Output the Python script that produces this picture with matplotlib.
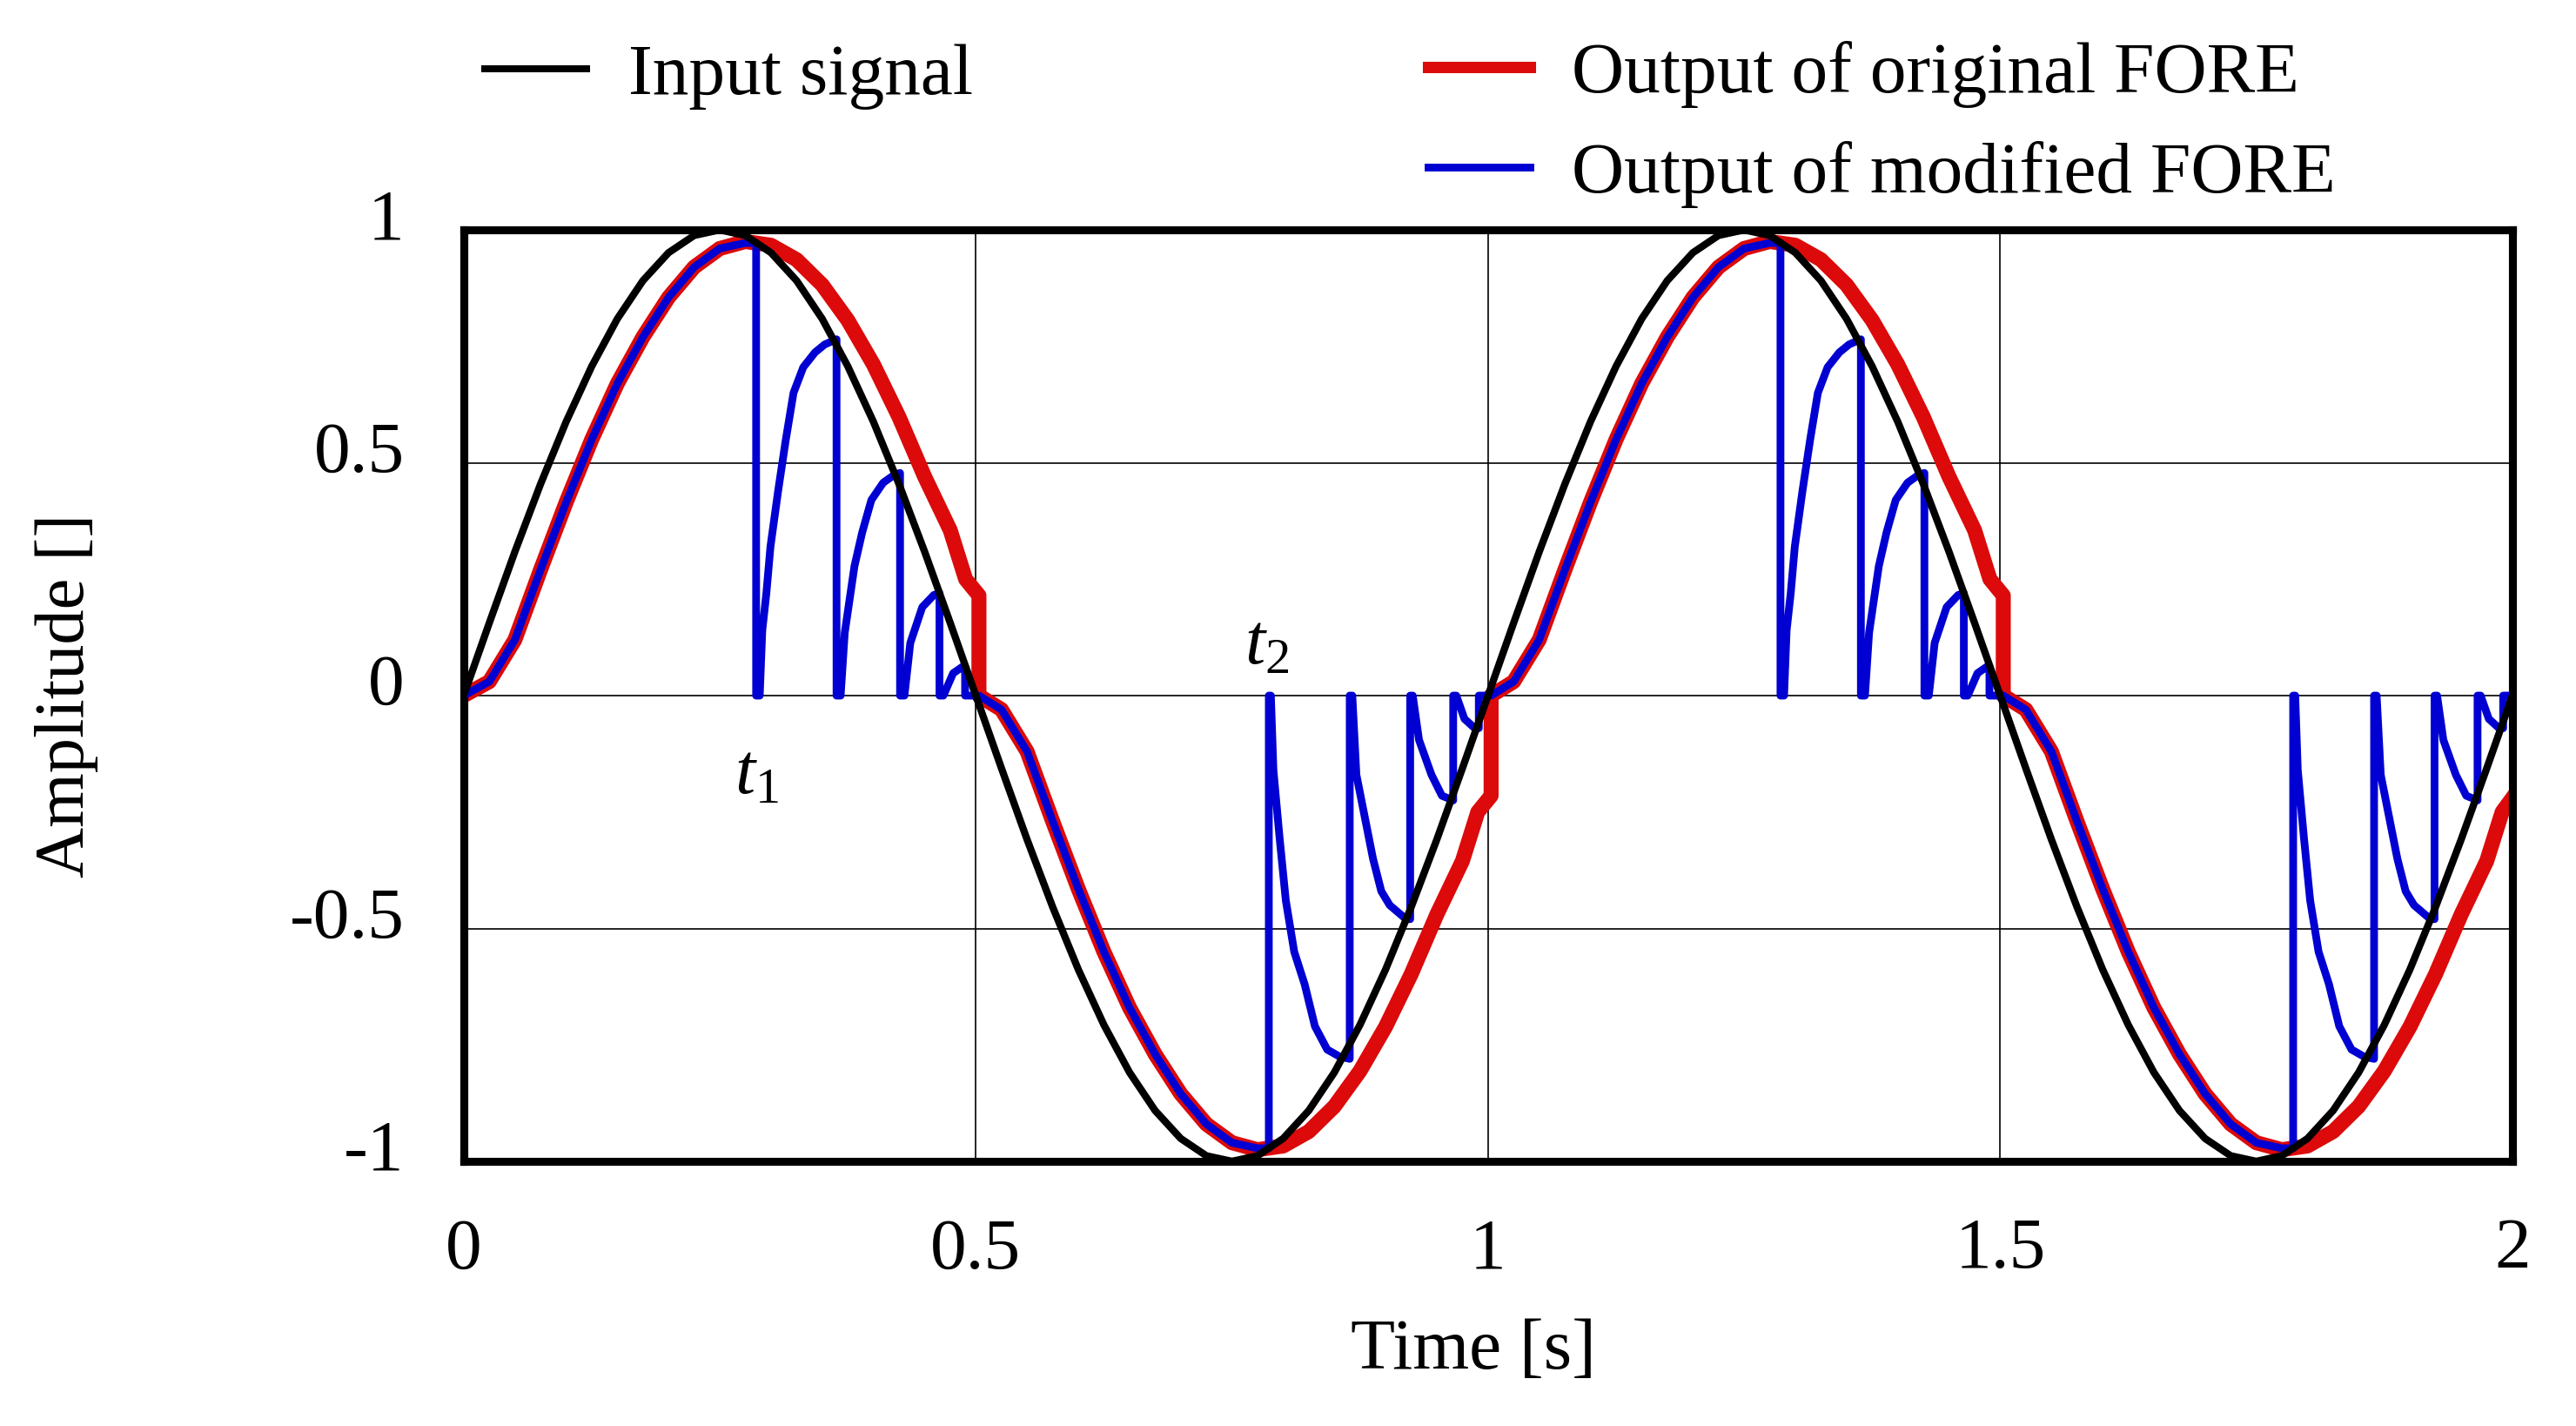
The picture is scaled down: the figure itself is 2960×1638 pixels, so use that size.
"""FORE reset behaviour: input sine vs. original and modified FORE output."""

import matplotlib.pyplot as plt
import numpy as np
from matplotlib.lines import Line2D
from matplotlib.transforms import ScaledTranslation, blended_transform_factory

plt.rcParams["font.family"] = ["Liberation Serif", "DejaVu Serif"]
plt.rcParams["mathtext.fontset"] = "custom"
plt.rcParams["mathtext.rm"] = "Liberation Serif"
plt.rcParams["mathtext.it"] = "Liberation Serif:italic"

# input signal, read every 0.025 s
input_t = np.linspace(0, 2, 81)
input_v = [
    0, 0.156, 0.309, 0.454, 0.588, 0.707, 0.809, 0.891, 0.951, 0.988,
    1.0, 0.988, 0.951, 0.891, 0.809, 0.707, 0.588, 0.454, 0.309, 0.156,
    0, -0.156, -0.309, -0.454, -0.588, -0.707, -0.809, -0.891, -0.951, -0.988,
    -1.0, -0.988, -0.951, -0.891, -0.809, -0.707, -0.588, -0.454, -0.309, -0.156,
    0, 0.156, 0.309, 0.454, 0.588, 0.707, 0.809, 0.891, 0.951, 0.988,
    1.0, 0.988, 0.951, 0.891, 0.809, 0.707, 0.588, 0.454, 0.309, 0.156,
    0, -0.156, -0.309, -0.454, -0.588, -0.707, -0.809, -0.891, -0.951, -0.988,
    -1.0, -0.988, -0.951, -0.891, -0.809, -0.707, -0.588, -0.454, -0.309, -0.156,
    0,
]

# original FORE (resets at input zero crossings)
red_t = [
    0, 0.025, 0.05, 0.075, 0.1, 0.125, 0.15, 0.175, 0.2, 0.225,
    0.25, 0.275, 0.3, 0.325, 0.35, 0.375, 0.4, 0.425, 0.45, 0.475,
    0.49, 0.503, 0.503,
    0.525, 0.55, 0.575, 0.6, 0.625, 0.65, 0.675, 0.7, 0.725, 0.75,
    0.775, 0.8, 0.825, 0.85, 0.875, 0.9, 0.925, 0.95, 0.975,
    0.99, 1.003, 1.003,
    1.025, 1.05, 1.075, 1.1, 1.125, 1.15, 1.175, 1.2, 1.225, 1.25,
    1.275, 1.3, 1.325, 1.35, 1.375, 1.4, 1.425, 1.45, 1.475,
    1.49, 1.503, 1.503,
    1.525, 1.55, 1.575, 1.6, 1.625, 1.65, 1.675, 1.7, 1.725, 1.75,
    1.775, 1.8, 1.825, 1.85, 1.875, 1.9, 1.925, 1.95, 1.975,
    1.99, 2.0,
]
red_v = [
    0, 0.03, 0.12, 0.27, 0.415, 0.55, 0.67, 0.77, 0.855, 0.92,
    0.96, 0.975, 0.967, 0.936, 0.882, 0.806, 0.711, 0.598, 0.47, 0.355,
    0.25, 0.215, 0,
    -0.03, -0.12, -0.27, -0.415, -0.55, -0.67, -0.77, -0.855, -0.92, -0.96,
    -0.975, -0.967, -0.936, -0.882, -0.806, -0.711, -0.598, -0.47, -0.355,
    -0.25, -0.215, 0,
    0.03, 0.12, 0.27, 0.415, 0.55, 0.67, 0.77, 0.855, 0.92, 0.96,
    0.975, 0.967, 0.936, 0.882, 0.806, 0.711, 0.598, 0.47, 0.355,
    0.25, 0.215, 0,
    -0.03, -0.12, -0.27, -0.415, -0.55, -0.67, -0.77, -0.855, -0.92, -0.96,
    -0.975, -0.967, -0.936, -0.882, -0.806, -0.711, -0.598, -0.47, -0.355,
    -0.25, -0.22,
]

# modified FORE (extra resets)
blue_t = [
    0, 0.025, 0.05, 0.075, 0.1, 0.125, 0.15, 0.175, 0.2, 0.225, 0.25, 0.275,
    0.2855, 0.2855, 0.289, 0.2915, 0.2955, 0.2995, 0.307, 0.3145, 0.322,
    0.3315, 0.343, 0.3525, 0.364,
    0.364, 0.368, 0.372, 0.3815, 0.389, 0.398, 0.4095, 0.421, 0.426,
    0.426, 0.4303, 0.436, 0.4477, 0.459, 0.4645,
    0.4645, 0.4683, 0.4778, 0.487, 0.4895,
    0.4895, 0.503,
    0.525, 0.55, 0.575, 0.6, 0.625, 0.65, 0.675, 0.7, 0.725, 0.75, 0.775,
    0.786, 0.786, 0.788, 0.7905, 0.7965, 0.8026, 0.8108, 0.821, 0.831,
    0.843, 0.855, 0.865,
    0.865, 0.8675, 0.8715, 0.8796, 0.8877, 0.8958, 0.904, 0.92, 0.924,
    0.924, 0.9265, 0.9326, 0.9448, 0.955, 0.966,
    0.966, 0.969, 0.977, 0.987, 0.991,
    0.991, 1.003,
    1.025, 1.05, 1.075, 1.1, 1.125, 1.15, 1.175, 1.2, 1.225, 1.25, 1.275,
    1.2855, 1.2855, 1.289, 1.2915, 1.2955, 1.2995, 1.307, 1.3145, 1.322,
    1.3315, 1.343, 1.3525, 1.364,
    1.364, 1.368, 1.372, 1.3815, 1.389, 1.398, 1.4095, 1.421, 1.426,
    1.426, 1.4303, 1.436, 1.4477, 1.459, 1.4645,
    1.4645, 1.4683, 1.4778, 1.487, 1.4895,
    1.4895, 1.503,
    1.525, 1.55, 1.575, 1.6, 1.625, 1.65, 1.675, 1.7, 1.725, 1.75, 1.775,
    1.786, 1.786, 1.788, 1.7905, 1.7965, 1.8026, 1.8108, 1.821, 1.831,
    1.843, 1.855, 1.865,
    1.865, 1.8675, 1.8715, 1.8796, 1.8877, 1.8958, 1.904, 1.92, 1.924,
    1.924, 1.9265, 1.9326, 1.9448, 1.955, 1.966,
    1.966, 1.969, 1.977, 1.987, 1.991,
    1.991, 2.0,
]
blue_v = [
    0, 0.03, 0.12, 0.27, 0.415, 0.55, 0.67, 0.77, 0.855, 0.92, 0.96, 0.972,
    0.972, 0, 0, 0.14, 0.22, 0.32, 0.44, 0.55, 0.65,
    0.705, 0.737, 0.754, 0.765,
    0, 0, 0.135, 0.278, 0.35, 0.42, 0.457, 0.475, 0.478,
    0, 0, 0.113, 0.19, 0.216, 0.22,
    0, 0, 0.048, 0.062, 0.062,
    0, 0,
    -0.03, -0.12, -0.27, -0.415, -0.55, -0.67, -0.77, -0.855, -0.92, -0.96, -0.972,
    -0.972, 0, 0, -0.16, -0.305, -0.44, -0.55, -0.62, -0.71,
    -0.76, -0.775, -0.78,
    0, 0, -0.17, -0.26, -0.35, -0.42, -0.45, -0.48, -0.48,
    0, 0, -0.095, -0.17, -0.215, -0.225,
    0, 0, -0.05, -0.07, -0.07,
    0, 0,
    0.03, 0.12, 0.27, 0.415, 0.55, 0.67, 0.77, 0.855, 0.92, 0.96, 0.972,
    0.972, 0, 0, 0.14, 0.22, 0.32, 0.44, 0.55, 0.65,
    0.705, 0.737, 0.754, 0.765,
    0, 0, 0.135, 0.278, 0.35, 0.42, 0.457, 0.475, 0.478,
    0, 0, 0.113, 0.19, 0.216, 0.22,
    0, 0, 0.048, 0.062, 0.062,
    0, 0,
    -0.03, -0.12, -0.27, -0.415, -0.55, -0.67, -0.77, -0.855, -0.92, -0.96, -0.972,
    -0.972, 0, 0, -0.16, -0.305, -0.44, -0.55, -0.62, -0.71,
    -0.76, -0.775, -0.78,
    0, 0, -0.17, -0.26, -0.35, -0.42, -0.45, -0.48, -0.48,
    0, 0, -0.095, -0.17, -0.215, -0.225,
    0, 0, -0.05, -0.07, -0.07,
    0, 0,
]

x_ticks = [0, 0.5, 1, 1.5, 2]
x_labels = ["0", "0.5", "1", "1.5", "2"]
y_ticks = [1, 0.5, 0, -0.5, -1]
y_labels = ["1", "0.5", "0", "-0.5", "-1"]

marker_labels = [r"$t_1$", r"$t_2$"]
marker_t = [0.286, 0.784]
marker_v = [-0.172, 0.105]

RED = "#dc0a0a"
BLUE = "#0000d2"
FS = 30


def main() -> None:
    fig = plt.figure(figsize=(14.8, 8.19), dpi=200)
    ax = fig.add_axes([0.180, 0.1856, 0.7953, 0.6532])

    ax.plot(red_t, red_v, color=RED, lw=6.2, zorder=2)
    ax.plot(blue_t, blue_v, color=BLUE, lw=3.2, zorder=3)
    ax.plot(input_t, input_v, color="black", lw=3.0, zorder=4)

    ax.set_xlim(0, 2)
    ax.set_ylim(-1, 1)
    ax.set_xticks(x_ticks)
    ax.set_xticklabels(x_labels)
    ax.set_yticks(y_ticks)
    ax.tick_params(length=0, labelsize=FS, pad=23.4, labelleft=False)
    ax.grid(True, color="black", lw=0.6)
    for sp in ax.spines.values():
        sp.set_linewidth(3.3)

    # y tick labels sit a little above their grid line
    trans = blended_transform_factory(ax.transAxes, ax.transData) + ScaledTranslation(
        0, -10 / 200, fig.dpi_scale_trans
    )
    for v, s in zip(y_ticks, y_labels):
        ax.text(-0.029, v, s, transform=trans, ha="right", va="baseline", fontsize=FS)

    for s, t, v in zip(marker_labels, marker_t, marker_v):
        ax.text(t, v, s, ha="center", va="center", fontsize=FS, zorder=5)

    ax.set_xlabel("Time [s]", fontsize=FS)
    ax.xaxis.set_label_coords(0.493, -0.2037)
    ax.xaxis.label.set_va("center")
    ax.set_ylabel("Amplitude []", fontsize=29)
    ax.yaxis.set_label_coords(-0.1937, 0.5)
    ax.yaxis.label.set_va("center")

    # legend handles are drawn thinner than the plotted lines
    h_in = Line2D([], [], color="black", lw=2.9)
    h_red = Line2D([], [], color=RED, lw=4.7)
    h_blue = Line2D([], [], color=BLUE, lw=3.2)
    common = dict(frameon=False, fontsize=FS, handlelength=1.4, handletextpad=0.58,
                  borderpad=0, borderaxespad=0)
    fig.legend([h_in], ["Input signal"], loc="center left",
               bbox_to_anchor=(557 / 2960, 1 - 88 / 1638), **common)
    fig.legend([h_red, h_blue], ["Output of original FORE", "Output of modified FORE"],
               loc="center left", bbox_to_anchor=(1641 / 2960, 1 - 143 / 1638),
               labelspacing=0.45, **common)

    fig.savefig("out.png", dpi=200)


if __name__ == "__main__":
    main()
